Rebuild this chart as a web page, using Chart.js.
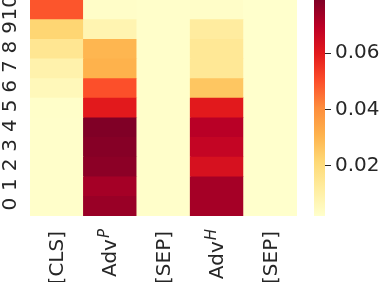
<!DOCTYPE html>
<html>
<head>
<meta charset="utf-8">
<script src="https://cdn.jsdelivr.net/npm/chart.js@4"></script>
<style>
  body { margin: 0; background: #fff; }
  #wrap { position: relative; width: 380px; height: 282px; }
  #heat { position: absolute; left: 0; top: 0; }
  #barra { position: absolute; left: 300px; top: 0; }
</style>
</head>
<body>
<div id="wrap">
  <canvas id="heat" width="380" height="282"></canvas>
  <canvas id="barra" width="80" height="282"></canvas>
</div>
<script>
// tokens (columnas) y capas (filas, 0 abajo)
const tokens = ['[CLS]', 'Adv^P', '[SEP]', 'Adv^H', '[SEP]'];
const capas = ['0', '1', '2', '3', '4', '5', '6', '7', '8', '9', '10'];

// valores por columna, indice = capa
const valCLS  = [0.0025, 0.0025, 0.0025, 0.0025, 0.0025, 0.0028, 0.006, 0.009, 0.015, 0.022, 0.049];
const valAdvP = [0.075, 0.073, 0.077, 0.078, 0.079, 0.060, 0.050, 0.031, 0.030, 0.008, 0.003];
const valSep1 = [0.0025, 0.0025, 0.0025, 0.0025, 0.0025, 0.0025, 0.0025, 0.0025, 0.0025, 0.0025, 0.0025];
const valAdvH = [0.073, 0.073, 0.063, 0.0676, 0.070, 0.060, 0.026, 0.014, 0.014, 0.012, 0.003];
const valSep2 = [0.0022, 0.0022, 0.0022, 0.0022, 0.0022, 0.0022, 0.0022, 0.0022, 0.0022, 0.0022, 0.0022];

const columnas = [valCLS, valAdvP, valSep1, valAdvH, valSep2];

// limites de la barra de color
const vMin = 0.0021;
const vMax = 0.0789;
const ticksBarra = [0.02, 0.04, 0.06];

// paleta YlOrRd
const paleta = [
  [255, 255, 204], [255, 237, 160], [254, 217, 118], [254, 178, 76],
  [253, 141, 60], [252, 78, 42], [227, 26, 28], [189, 0, 38], [128, 0, 38]
];

function colorDe(v) {
  let t = (v - vMin) / (vMax - vMin);
  t = Math.max(0, Math.min(1, t));
  const p = t * (paleta.length - 1);
  let i = Math.floor(p);
  if (i >= paleta.length - 1) i = paleta.length - 2;
  const f = p - i;
  const a = paleta[i], b = paleta[i + 1];
  const c = a.map((x, k) => Math.round(x + (b[k] - x) * f));
  return `rgb(${c[0]},${c[1]},${c[2]})`;
}

const colorTexto = '#262626';
const fuente = '"DejaVu Sans", sans-serif';

// un dataset por capa, apilados
const datasets = capas.map((capa, i) => ({
  label: capa,
  data: tokens.map(() => 1),
  backgroundColor: columnas.map(col => colorDe(col[i])),
  borderWidth: 0,
  barPercentage: 1,
  categoryPercentage: 1
}));

// Etiquetas rotadas (con superindice para Adv)
const etiquetas = {
  id: 'etiquetas',
  afterDraw(chart) {
    const ctx = chart.ctx;
    const ex = chart.scales.x;
    const ey = chart.scales.y;
    ctx.save();
    ctx.fillStyle = colorTexto;

    // eje y
    ctx.font = '20px ' + fuente;
    capas.forEach((capa, i) => {
      const py = ey.getPixelForValue(i + 0.5) - 2;
      ctx.save();
      ctx.translate(16, py);
      ctx.rotate(-Math.PI / 2);
      ctx.textAlign = 'center';
      ctx.textBaseline = 'alphabetic';
      ctx.fillText(capa, 0, 0);
      ctx.restore();
    });

    // eje x
    tokens.forEach((tok, j) => {
      const px = ex.getPixelForValue(j);
      const partes = tok.split('^');
      ctx.save();
      ctx.translate(px + 1, 231);
      ctx.rotate(-Math.PI / 2);
      ctx.textAlign = 'right';
      ctx.textBaseline = 'middle';
      let fin = 0;
      if (partes.length > 1) {
        ctx.font = 'oblique 15px ' + fuente;
        const w = ctx.measureText(partes[1]).width;
        ctx.fillText(partes[1], 2, -6);
        fin = -w + 1;
      }
      ctx.font = '20px ' + fuente;
      ctx.fillText(partes[0], fin, 0);
      ctx.restore();
    });
    ctx.restore();
  }
};

new Chart(document.getElementById('heat'), {
  type: 'bar',
  data: { labels: tokens, datasets: datasets },
  options: {
    responsive: false,
    animation: false,
    layout: { padding: { left: 30, right: 83, top: 0, bottom: 66 } },
    plugins: { legend: { display: false }, tooltip: { enabled: false } },
    scales: {
      x: { display: false, stacked: true },
      y: { display: false, stacked: true, min: 0, max: capas.length }
    }
  },
  plugins: [etiquetas]
});

// barra de color
new Chart(document.getElementById('barra'), {
  type: 'bar',
  data: {
    labels: [''],
    datasets: [{
      data: [[vMin, vMax]],
      borderWidth: 0,
      barPercentage: 1,
      categoryPercentage: 1,
      backgroundColor: (c) => {
        const area = c.chart.chartArea;
        if (!area) return 'rgb(255,255,204)';
        const g = c.chart.ctx.createLinearGradient(0, area.bottom, 0, area.top);
        paleta.forEach((p, k) => g.addColorStop(k / (paleta.length - 1), `rgb(${p[0]},${p[1]},${p[2]})`));
        return g;
      }
    }]
  },
  options: {
    responsive: false,
    animation: false,
    layout: { padding: { left: 14, right: 0, top: 0, bottom: 66 } },
    plugins: { legend: { display: false }, tooltip: { enabled: false } },
    scales: {
      x: { display: false },
      y: {
        position: 'right',
        min: vMin,
        max: vMax,
        afterBuildTicks: (s) => { s.ticks = ticksBarra.map(v => ({ value: v })); },
        afterFit: (s) => { s.width = 55; s.paddingTop = 0; s.paddingBottom = 0; },
        border: { display: false },
        grid: { drawOnChartArea: false, tickLength: 6, color: colorTexto, lineWidth: 1 },
        ticks: {
          color: colorTexto,
          padding: 4,
          font: { family: '"DejaVu Sans", sans-serif', size: 20 },
          callback: (v) => v.toFixed(2)
        }
      }
    }
  }
});
</script>
</body>
</html>
